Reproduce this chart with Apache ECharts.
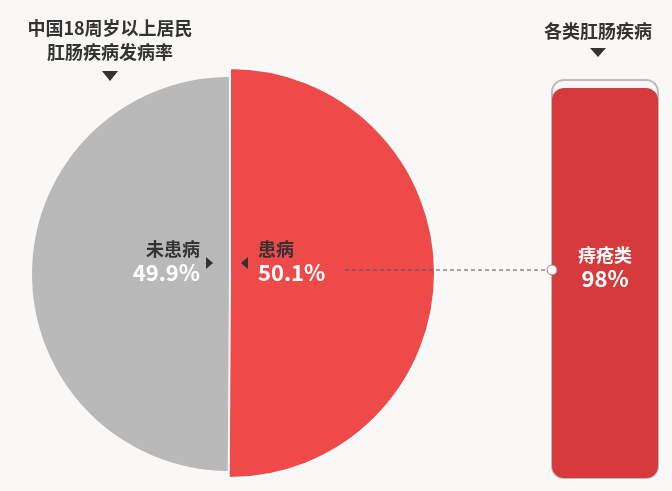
<!DOCTYPE html>
<html><head><meta charset="utf-8">
<script src="https://cdn.jsdelivr.net/npm/echarts@6/dist/echarts.min.js"></script>
<style>html,body{margin:0;background:#f9f8f6}#c{width:672px;height:491px}</style>
</head><body><div id="c"></div>
<script>
const pieNames = ['患病', '未患病']
const pieValues = [50.1, 49.9]
const barName = '痔疮类'
const barValue = 98

const chart = echarts.init(document.getElementById('c'))
const font = '"Noto Sans CJK SC", sans-serif'

const g = [
  { type: 'text', x: 110, y: 16, style: { text: '中国18周岁以上居民\n肛肠疾病发病率', fill: '#333', font: 'bold 18px ' + font, lineHeight: 24, align: 'center' } },
  { type: 'polygon', shape: { points: [[102, 71], [118, 71], [110, 81]] }, style: { fill: '#333' } },
  { type: 'text', x: 598, y: 22, style: { text: '各类肛肠疾病', fill: '#333', font: 'bold 18px ' + font, align: 'center' } },
  { type: 'polygon', shape: { points: [[590, 48], [606, 48], [598, 57]] }, style: { fill: '#333' } },
  { type: 'text', x: 200, y: 240, style: { text: pieNames[1], fill: '#333', font: 'bold 18px ' + font, align: 'right' } },
  { type: 'text', x: 200, y: 262, style: { text: pieValues[1] + '%', fill: '#fff', font: 'bold 22px ' + font, align: 'right' } },
  { type: 'polygon', shape: { points: [[206, 257], [206, 269], [213, 263]] }, style: { fill: '#333' } },
  { type: 'text', x: 258, y: 240, style: { text: pieNames[0], fill: '#333', font: 'bold 18px ' + font } },
  { type: 'text', x: 258, y: 262, style: { text: pieValues[0] + '%', fill: '#fff', font: 'bold 22px ' + font } },
  { type: 'polygon', shape: { points: [[248, 257], [248, 269], [241, 263]] }, style: { fill: '#333' } },
  { type: 'line', shape: { x1: 345, y1: 270, x2: 548, y2: 270 }, style: { stroke: '#555', lineDash: [4, 3], lineWidth: 1 } },
  { type: 'circle', shape: { cx: 552, cy: 270, r: 5 }, style: { fill: '#fff', stroke: '#888', lineWidth: 1 } }
].map(e => Object.assign(e, { z: 100 }))

chart.setOption({
  backgroundColor: '#f9f8f6',
  animation: false,
  grid: { left: 552, width: 106, top: 80, bottom: 13 },
  xAxis: { type: 'category', data: [barName], show: false },
  yAxis: { type: 'value', min: 0, max: 100, show: false },
  series: [
    {
      // 患病 右半
      type: 'pie', center: [230, 273], radius: [0, 205], startAngle: 90,
      silent: true, label: { show: false },
      data: [
        { name: pieNames[0], value: pieValues[0], itemStyle: { color: '#ee4a4a', borderColor: '#fff', borderWidth: 2 } },
        { name: '_', value: pieValues[1], itemStyle: { color: 'transparent' } }
      ]
    },
    {
      // 未患病 左半
      type: 'pie', center: [229, 274], radius: [0, 197], startAngle: 90,
      silent: true, label: { show: false },
      data: [
        { name: '_', value: pieValues[0], itemStyle: { color: 'transparent' } },
        { name: pieNames[1], value: pieValues[1], itemStyle: { color: '#b9b9b9' } }
      ]
    },
    {
      type: 'bar', data: [barValue], barWidth: 106,
      itemStyle: { color: '#d63a3c', borderRadius: 12 },
      showBackground: true,
      backgroundStyle: { color: 'transparent', borderColor: '#bbb', borderWidth: 2, borderRadius: 12 },
      label: {
        show: true, position: 'inside', offset: [0, -15],
        formatter: p => '{a|' + p.name + '}\n{b|' + p.value + '%}',
        rich: {
          a: { color: '#fff', fontSize: 18, fontWeight: 'bold', fontFamily: font, lineHeight: 22 },
          b: { color: '#fff', fontSize: 22, fontWeight: 'bold', fontFamily: font, lineHeight: 26 }
        }
      }
    }
  ],
  graphic: g
})
</script></body></html>
